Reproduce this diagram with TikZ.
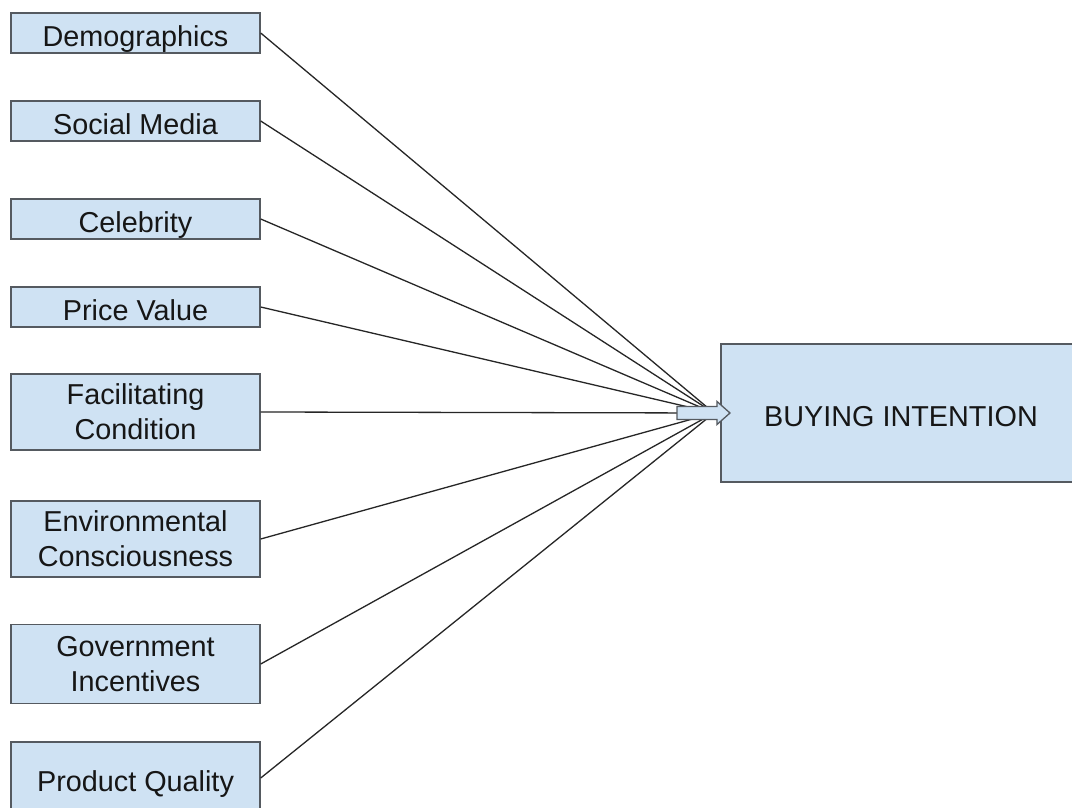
\documentclass[tikz,border=0pt]{standalone}
\usepackage{fontspec}
\setmainfont{Liberation Sans}
\begin{document}
\begin{tikzpicture}[x=1pt,y=-1pt,
  box/.style={draw=boxline, line width=1.4pt, fill=boxfill, text=txt,
    minimum width=249pt, inner sep=0pt, align=center,
    font=\fontsize{28.8}{35}\selectfont},
  onel/.style={text height=26.6pt, text depth=0pt},
  conn/.style={draw=black!85, line width=1.3pt}]
\definecolor{boxfill}{HTML}{CFE2F3}
\definecolor{boxline}{HTML}{555A60}
\definecolor{txt}{HTML}{161616}
\useasboundingbox (0,0) rectangle (1072,808);
\clip (0,0) rectangle (1072,808);
\fill[white] (0,0) rectangle (1072,808);
\node[box, onel, minimum height=40pt] (demo) at (135.5,33) {Demographics};
\node[box, onel, minimum height=40pt] (social) at (135.5,121) {Social Media};
\node[box, onel, minimum height=40pt] (celeb) at (135.5,219) {Celebrity};
\node[box, onel, minimum height=40pt] (price) at (135.5,307) {Price Value};
\node[box, minimum height=76pt] (facil) at (135.5,412) {Facilitating\\Condition};
\node[box, minimum height=76pt] (env) at (135.5,539) {Environmental\\Consciousness};
\node[box, minimum height=79pt] (gov) at (135.5,664) {Government\\Incentives};
\node[box, onel, minimum height=72pt] (prod) at (135.5,778) {Product Quality};
\node[box, onel, minimum width=360pt, minimum height=138pt] (buy) at (901,413) {BUYING INTENTION};
\coordinate (conv) at (714,413);
\foreach \n in {demo,social,celeb,price,facil,env,gov,prod}
  \draw[conn] (\n.east) -- (conv);
\coordinate (a1) at (677,406.5);
\coordinate (a2) at (717,406.5);
\coordinate (a3) at (717,401.5);
\coordinate (a4) at (730,413);
\coordinate (a5) at (717,424.5);
\coordinate (a6) at (717,419.5);
\coordinate (a7) at (677,419.5);
\filldraw[fill=boxfill, draw=boxline, line width=1.3pt, line join=miter]
  (a1) -- (a2) -- (a3) -- (a4) -- (a5) -- (a6) -- (a7) -- cycle;
\end{tikzpicture}
\end{document}
